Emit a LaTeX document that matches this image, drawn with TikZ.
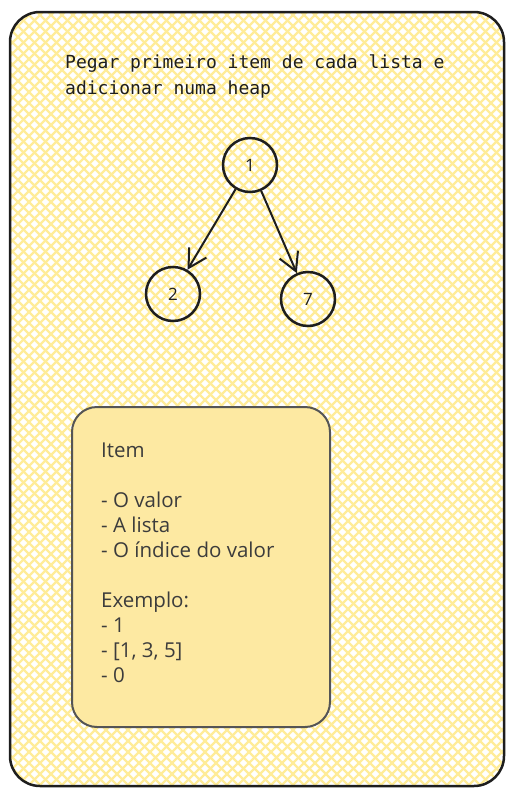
\documentclass[tikz,border=0pt]{standalone}
\usepackage{fontspec}
\setmainfont{Open Sans}
\setmonofont{DejaVu Sans Mono}
\usetikzlibrary{arrows.meta}

\definecolor{ink}{HTML}{1E1E1E}
\definecolor{hatch}{HTML}{FFEC99}
\definecolor{note}{HTML}{FDE9A2}
\definecolor{noteline}{HTML}{555555}
\definecolor{notetext}{HTML}{3C3C3C}

\tikzset{
	heapnode/.style={circle, draw=ink, line width=2.5pt, minimum size=54pt, inner sep=0pt,
		font=\fontsize{17}{17}\selectfont, text=ink},
	heapedge/.style={draw=ink, line width=2pt, -{Straight Barb[length=18pt,width=20pt]}},
	notebox/.style={draw=noteline, fill=note, line width=2pt, rounded corners=25pt,
		minimum width=258pt, minimum height=320pt},
}

\begin{document}
\begin{tikzpicture}[x=1pt, y=-1pt]
	\useasboundingbox (0,0) rectangle (514,796);

	% fundo hachurado
	\begin{scope}
		\clip[rounded corners=30pt] (10,12) rectangle (504,786);
		\foreach \i in {-800,-789,...,520} {
			\draw[hatch, line width=2.3pt] (\i,0) -- ++(800,800);
			\draw[hatch, line width=2.3pt] (\i,800) -- ++(800,-800);
		}
	\end{scope}
	\draw[ink, line width=2.5pt, rounded corners=30pt] (10,12) rectangle (504,786);

	\node[anchor=north west, align=left, inner sep=0pt, text=ink,
		font=\ttfamily\fontsize{18}{26}\selectfont] (title) at (65,54.5)
		{Pegar primeiro item de cada lista e\\adicionar numa heap};

	% heap
	\node[heapnode] (n1) at (250,165) {1};
	\node[heapnode] (n2) at (173,294) {2};
	\node[heapnode] (n7) at (308,299) {7};
	\draw[heapedge] (n1) -- (n2);
	\draw[heapedge] (n1) -- (n7);

	% item
	\node[notebox] (item) at (201,567) {};
	\node[anchor=north west, align=left, inner sep=0pt, text=notetext,
		font=\fontsize{20.5}{25}\selectfont] (itemtext) at (101,443)
		{Item\\[25pt]- O valor\\- A lista\\- O índice do valor\\[25pt]Exemplo:\\- 1\\- [1, 3, 5]\\- 0};
\end{tikzpicture}
\end{document}
